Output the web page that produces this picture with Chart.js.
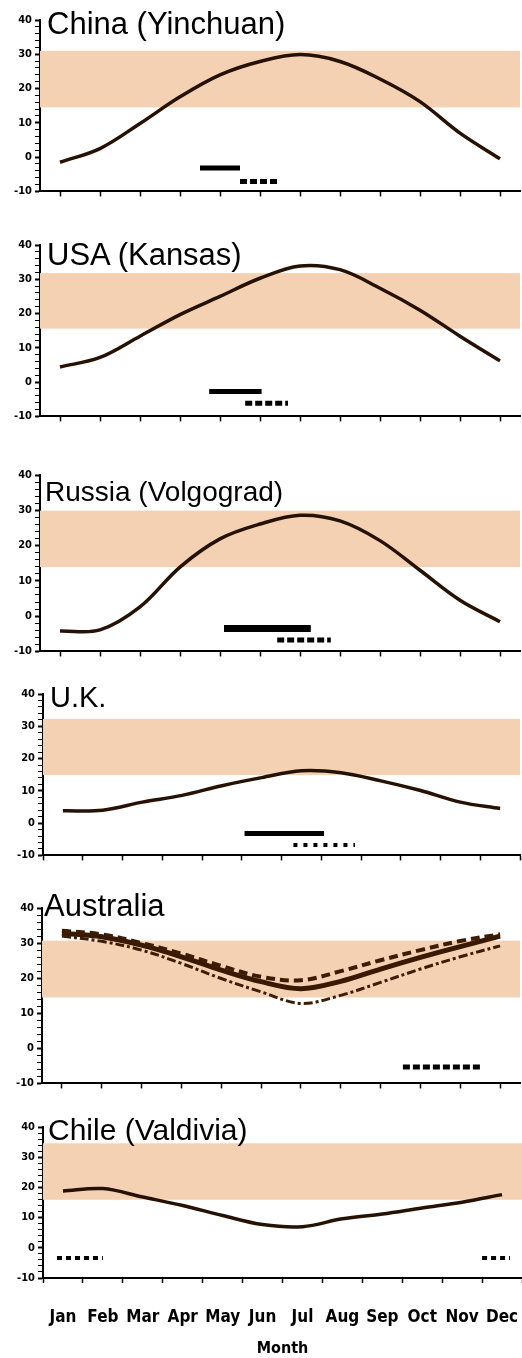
<!DOCTYPE html>
<html>
<head>
<meta charset="utf-8">
<script src="https://cdn.jsdelivr.net/npm/chart.js@4.4.0/dist/chart.umd.min.js"></script>
<style>
    body { margin: 0; background: #fff; }
    #page { position: relative; width: 522px; height: 1358px; overflow: hidden; background: #fff; }
    canvas { position: absolute; left: 0; }
    .title {
        position: absolute;
        font-family: 'Liberation Sans', Arial, sans-serif;
        line-height: 1;
        color: #000;
        white-space: nowrap;
        z-index: 2;
    }
</style>
</head>
<body>
<div id="page">
    <canvas id="china"></canvas>
    <canvas id="usa"></canvas>
    <canvas id="russia"></canvas>
    <canvas id="uk"></canvas>
    <canvas id="australia"></canvas>
    <canvas id="chile"></canvas>

    <div class="title" style="left:47px;top:8px;font-size:31px">China (Yinchuan)</div>
    <div class="title" style="left:47px;top:239px;font-size:31px">USA (Kansas)</div>
    <div class="title" style="left:45px;top:478px;font-size:28px">Russia (Volgograd)</div>
    <div class="title" style="left:50px;top:683px;font-size:29px">U.K.</div>
    <div class="title" style="left:44px;top:890px;font-size:31px">Australia</div>
    <div class="title" style="left:48px;top:1115px;font-size:30px">Chile (Valdivia)</div>
</div>

<script>
const months = ['Jan', 'Feb', 'Mar', 'Apr', 'May', 'Jun', 'Jul', 'Aug', 'Sep', 'Oct', 'Nov', 'Dec'];

// monthly mean temperature (deg C)
const chinaTemp  = [-1.5, 2.5, 9.8, 17.6, 24.0, 27.9, 29.9, 27.9, 22.8, 16.2, 7.0, -0.5];
const usaTemp    = [4.4, 7.2, 13.4, 19.7, 25.0, 30.3, 33.9, 32.8, 27.4, 21.0, 13.4, 6.2];
const russiaTemp = [-4.2, -3.9, 2.6, 13.9, 21.9, 26.1, 28.6, 27.0, 21.4, 13.0, 4.5, -1.6];
const ukTemp     = [3.8, 4.0, 6.5, 8.6, 11.6, 14.1, 16.2, 15.6, 13.1, 10.1, 6.5, 4.5];
const ausMid     = [32.8, 31.8, 29.4, 26.1, 22.3, 19.0, 17.0, 19.1, 22.6, 25.9, 29.0, 32.0];
const ausHigh    = [33.5, 32.5, 30.0, 27.0, 23.5, 20.4, 19.4, 22.0, 25.1, 28.0, 30.6, 32.5];
const ausLow     = [32.0, 30.5, 28.0, 24.2, 19.9, 16.1, 12.8, 15.1, 18.8, 22.6, 26.1, 29.2];
const chileTemp  = [18.8, 19.6, 16.8, 14.0, 10.7, 7.7, 7.0, 9.6, 11.2, 13.2, 15.1, 17.6];

// growing periods: [start month, end month] and the level they sit at
const chinaSpans  = [[3.5, 4.5], [4.5, 5.5]];
const chinaLevels = [-3.2, -7.1];
const usaSpans    = [[3.73, 5.04], [4.63, 5.7]];
const usaLevels   = [-2.7, -6.2];
const russiaSpans  = [[4.1, 6.27], [5.43, 6.77]];
const russiaLevels = [-3.5, -6.8];
const ukSpans  = [[4.57, 6.57], [5.8, 7.35]];
const ukLevels = [-3.2, -6.8];
const ausSpans  = [[8.56, 10.56]];
const ausLevels = [-5.3];
const chileSpans  = [[-0.15, 1.0], [10.5, 11.2]];
const chileLevels = [-3.4, -3.4];

// optimum temperature band per panel
const bandLow  = [14.5, 15.6, 13.9, 14.9, 14.5, 15.9];
const bandHigh = [31.0, 31.8, 29.9, 32.3, 30.7, 34.6];

const yTicks = [-10, 0, 10, 20, 30, 40];

const lineColor = '#261204';
const bandColor = '#F5D1B3';
const tickFont  = "'Liberation Sans Narrow', 'DejaVu Sans Condensed', sans-serif";

const bandPlugin = {
    id: 'band',
    beforeDatasetsDraw(chart, args, opts) {
        const { ctx, chartArea } = chart;
        const y = chart.scales.y;
        const top = y.getPixelForValue(opts.high);
        const bottom = y.getPixelForValue(opts.low);
        ctx.save();
        ctx.fillStyle = bandColor;
        ctx.fillRect(chartArea.left, top, chartArea.right - chartArea.left, bottom - top);
        ctx.restore();
    }
};

function tempLine(values, style) {
    return Object.assign({
        data: values.map((v, i) => ({ x: i, y: v })),
        borderColor: lineColor,
        borderWidth: 3.5,
        pointRadius: 0,
        tension: 0.35
    }, style || {});
}

function spanLines(spans, levels, style) {
    return spans.map((s, i) => Object.assign({
        data: [{ x: s[0], y: levels[i] }, { x: s[1], y: levels[i] }],
        borderColor: '#000',
        borderWidth: 5,
        borderCapStyle: 'butt',
        pointRadius: 0,
        tension: 0
    }, (style && style[i]) || {}));
}

function buildPanel(id, geo, idx, datasets, showMonths) {
    const canvas = document.getElementById(id);
    const padTop = 10;
    const axisH = showMonths ? 1358 - geo.bottom : 8;

    canvas.width = 522;
    canvas.height = Math.round(geo.bottom - geo.top + padTop + axisH);
    canvas.style.top = Math.round(geo.top - padTop) + 'px';

    // tick marks sit on the months or between them
    const xTickValues = geo.between
        ? months.map((m, i) => i - 0.5).concat([11.5])
        : months.map((m, i) => i);

    new Chart(canvas, {
        type: 'line',
        data: { datasets: datasets },
        options: {
            responsive: false,
            animation: false,
            devicePixelRatio: 1,
            layout: { padding: { top: padTop, right: 522 - geo.right, left: 0, bottom: 0 } },
            plugins: {
                legend: { display: false },
                tooltip: { enabled: false },
                band: { low: bandLow[idx], high: bandHigh[idx] }
            },
            scales: {
                x: {
                    type: 'linear',
                    min: -0.5,
                    max: 11.5,
                    afterBuildTicks: (scale) => {
                        scale.ticks = xTickValues.map(v => ({ value: v }));
                    },
                    afterFit: (scale) => {
                        scale.height = axisH;
                        scale.paddingLeft = 0;
                        scale.paddingRight = 0;
                    },
                    border: { display: true, color: '#000', width: 2 },
                    grid: { drawOnChartArea: false, color: '#000', tickLength: 5, tickWidth: 1.5 },
                    ticks: {
                        display: !!showMonths,
                        autoSkip: false,
                        maxRotation: 0,
                        color: '#000',
                        padding: 24,
                        labelOffset: 20,
                        font: { family: tickFont, size: 17, weight: 'bold' },
                        callback: (v) => months[Math.round(v + 0.5)] || ''
                    },
                    title: {
                        display: !!showMonths,
                        text: 'Month',
                        color: '#000',
                        padding: { top: 5, bottom: 0 },
                        font: { family: tickFont, size: 16, weight: 'bold' }
                    }
                },
                y: {
                    min: -10,
                    max: 40,
                    afterBuildTicks: (scale) => {
                        const t = [];
                        for (let v = -10; v <= 40; v += 2) t.push({ value: v });
                        scale.ticks = t;
                    },
                    afterFit: (scale) => { scale.width = geo.left; },
                    border: { display: true, color: '#000', width: 2 },
                    grid: {
                        drawOnChartArea: false,
                        color: '#000',
                        tickLength: 5,
                        tickWidth: (c) => (c.tick && yTicks.includes(c.tick.value)) ? 2 : 1
                    },
                    ticks: {
                        autoSkip: false,
                        color: '#000',
                        padding: 3,
                        font: { family: tickFont, size: 11, weight: 'bold' },
                        callback: (v) => yTicks.includes(v) ? v : ''
                    }
                }
            }
        },
        plugins: [bandPlugin]
    });
}

const dotted = { borderDash: [7, 3] };

buildPanel('china', { top: 20, bottom: 193, left: 40, right: 520 }, 0,
    [tempLine(chinaTemp)].concat(spanLines(chinaSpans, chinaLevels, [{}, dotted])));

buildPanel('usa', { top: 245, bottom: 418, left: 40, right: 520 }, 1,
    [tempLine(usaTemp)].concat(spanLines(usaSpans, usaLevels, [{}, dotted])));

buildPanel('russia', { top: 475, bottom: 653, left: 40, right: 520 }, 2,
    [tempLine(russiaTemp)].concat(spanLines(russiaSpans, russiaLevels, [{ borderWidth: 7 }, dotted])));

buildPanel('uk', { top: 694, bottom: 857, left: 43, right: 520, between: true }, 3,
    [tempLine(ukTemp)].concat(spanLines(ukSpans, ukLevels, [{}, { borderWidth: 4, borderDash: [4, 6] }])));

buildPanel('australia', { top: 908, bottom: 1085, left: 42, right: 520 }, 4,
    [
        tempLine(ausHigh, { borderColor: '#3e1c03', borderWidth: 4, borderDash: [9, 5] }),
        tempLine(ausLow, { borderColor: '#3e1c03', borderWidth: 3, borderDash: [9, 3, 3, 3] }),
        tempLine(ausMid, { borderColor: '#3a1902', borderWidth: 5 })
    ].concat(spanLines(ausSpans, ausLevels, [dotted])));

buildPanel('chile', { top: 1127, bottom: 1278, left: 43, right: 522, between: true }, 5,
    [tempLine(chileTemp)].concat(spanLines(chileSpans, chileLevels,
        [{ borderWidth: 4, borderDash: [5, 4] }, { borderWidth: 4, borderDash: [5, 4] }])), true);
</script>
</body>
</html>
